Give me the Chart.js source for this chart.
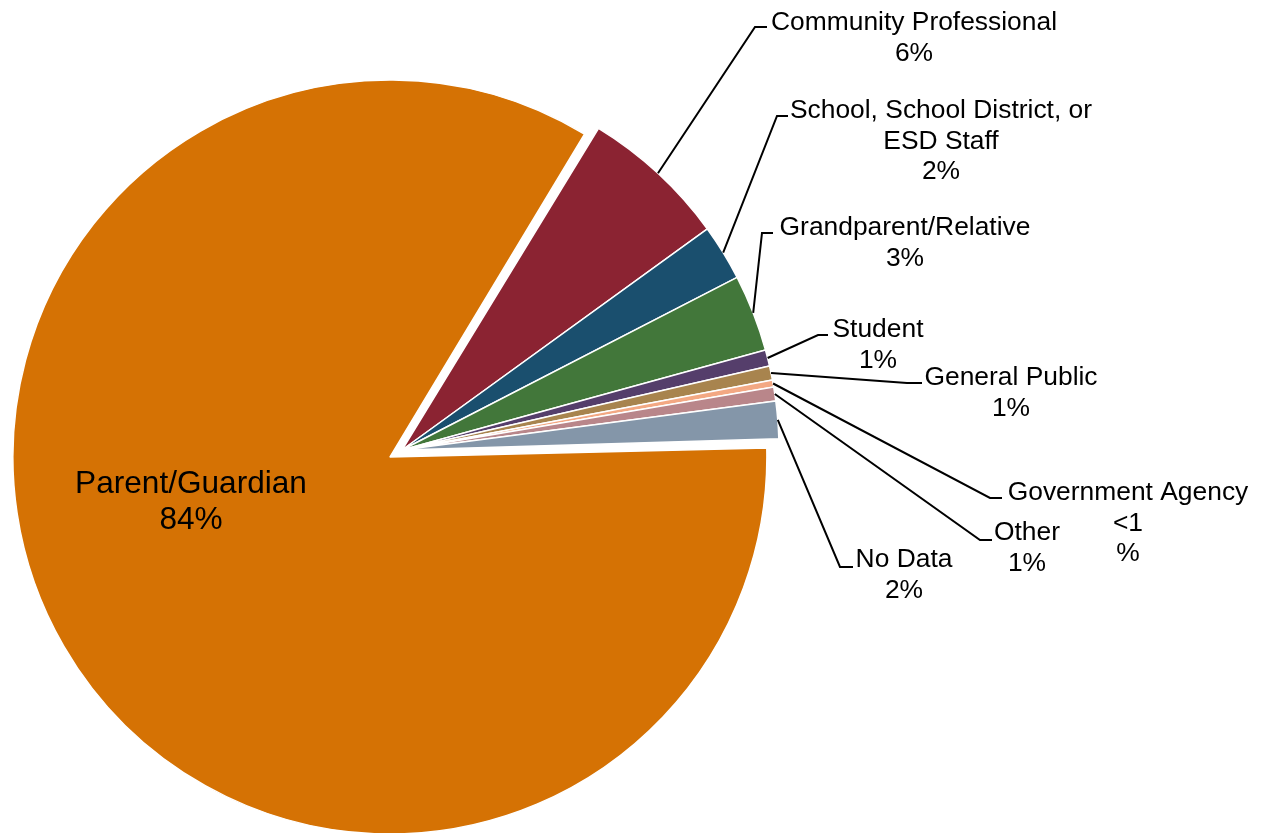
<!DOCTYPE html>
<html>
<head>
<meta charset="utf-8">
<title>Reporter Type</title>
<script src="https://cdn.jsdelivr.net/npm/chart.js@4.4.1/dist/chart.umd.min.js"></script>
<style>
  html, body { margin: 0; padding: 0; background: #fff; }
  #wrap { position: relative; width: 1268px; height: 833px; }
</style>
</head>
<body>
<div id="wrap"><canvas id="reporterPie"></canvas></div>
<script>
// ── Data ─────────────────────────────────────────────────────────────────────
const categories = [
  'Parent/Guardian',
  'Community Professional',
  ['School, School District, or', 'ESD Staff'],
  'Grandparent/Relative',
  'Student',
  'General Public',
  'Government Agency',
  'Other',
  'No Data',
];
const shares = [84.2, 6.3, 2.4, 3.3, 0.7, 0.6, 0.3, 0.6, 1.6];
const sliceColors = [
  '#D57204', '#8B2332', '#1A4F6E', '#42773A', '#553E6B',
  '#A8844E', '#F3A883', '#B9868A', '#8496A9',
];
const explode = [56, 0, 0, 0, 0, 0, 0, 0, 0];

// ── Label layout (first-line baseline, leader bend point, leader tail x) ────
const labelLayout = [
  { x: 191,  y: 493, inside: true },
  { x: 914,  y: 30,  bend: [755, 27],  tail: 767 },
  { x: 941,  y: 118, bend: [777, 116], tail: 788 },
  { x: 905,  y: 235, bend: [762, 233], tail: 773 },
  { x: 878,  y: 337, bend: [818, 335], tail: 828 },
  { x: 1011, y: 385, bend: [907, 383], tail: 922 },
  { x: 1128, y: 500, bend: [990, 498], tail: 1002, pctBreak: true },
  { x: 1027, y: 540, bend: [980, 540], tail: 992 },
  { x: 904,  y: 567, bend: [840, 567], tail: 853 },
];

const FONT = "'Liberation Sans', Arial, sans-serif";

// whole percent, or "<1%" when it would round to zero
function pctText(v, total) {
  const p = Math.round(v / total * 100);
  return p < 1 ? '<1%' : p + '%';
}

// arc.draw() grows a wide exploded slice by offset/4; pull it back so all
// slices keep the same radius
const keepRadius = {
  id: 'keepRadius',
  afterDatasetUpdate(chart, args) {
    const meta = chart.getDatasetMeta(args.index);
    const offs = chart.data.datasets[args.index].offset || [];
    meta.data.forEach((arc, i) => {
      if (offs[i]) arc.outerRadius -= offs[i] / 4;
    });
  }
};

// Data labels with elbow leader lines
const sliceLabels = {
  id: 'sliceLabels',
  afterDatasetsDraw(chart) {
    const ctx = chart.ctx;
    const meta = chart.getDatasetMeta(0);
    const total = shares.reduce((a, b) => a + b, 0);
    ctx.save();
    ctx.fillStyle = '#000';
    ctx.strokeStyle = '#000';
    ctx.lineWidth = 2;
    ctx.textAlign = 'center';
    ctx.textBaseline = 'alphabetic';

    meta.data.forEach((arc, i) => {
      const pos = labelLayout[i];
      const name = categories[i];
      const lines = Array.isArray(name) ? name.slice() : [name];
      const pct = pctText(shares[i], total);
      if (pos.pctBreak) lines.push(pct.replace('%', ''), '%');
      else lines.push(pct);

      if (!pos.inside) {
        const { x, y, startAngle, endAngle, outerRadius } =
          arc.getProps(['x', 'y', 'startAngle', 'endAngle', 'outerRadius'], true);
        const mid = (startAngle + endAngle) / 2;
        ctx.beginPath();
        ctx.moveTo(x + Math.cos(mid) * outerRadius, y + Math.sin(mid) * outerRadius);
        ctx.lineTo(pos.bend[0], pos.bend[1]);
        ctx.lineTo(pos.tail, pos.bend[1]);
        ctx.stroke();
      }

      const size = pos.inside ? 31.6 : 26.4;
      const lh = pos.inside ? 35.5 : 30.5;
      ctx.font = `${size}px ${FONT}`;
      lines.forEach((t, k) => ctx.fillText(t, pos.x, pos.y + k * lh));
    });
    ctx.restore();
  }
};

new Chart(document.getElementById('reporterPie'), {
  type: 'pie',
  data: {
    labels: categories,
    datasets: [{
      data: shares,
      backgroundColor: sliceColors,
      borderColor: '#FFFFFF',
      borderWidth: 1.5,
      offset: explode,
    }],
  },
  options: {
    responsive: true,
    maintainAspectRatio: false,
    animation: false,
    rotation: 88.3,
    radius: 377,
    layout: { padding: { left: 0, right: 464, top: 67, bottom: 0 } },
    plugins: {
      legend: { display: false },
      tooltip: { enabled: false },
    },
    events: [],
  },
  plugins: [keepRadius, sliceLabels],
});
</script>
</body>
</html>
